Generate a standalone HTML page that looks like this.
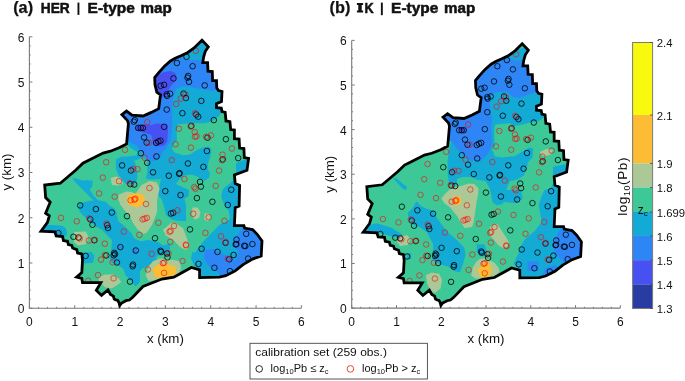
<!DOCTYPE html>
<html><head><meta charset="utf-8"><style>
html,body{margin:0;padding:0;background:#fff;}
svg{display:block;will-change:transform;}
text{font-family:"Liberation Sans",sans-serif;fill:#111;}
.tk{font-size:12px;}
.lab{font-size:13.3px;}
.cbt{font-size:11.3px;}
.zc{font-size:12px;}
.ttl{font-size:16.3px;font-weight:bold;stroke:#111;stroke-width:0.25px;}
.tt2{font-size:14.4px;font-weight:bold;stroke:#111;stroke-width:0.5px;}
.lg{font-size:11px;}
</style></head><body>
<svg width="685" height="381" viewBox="0 0 685 381">
<rect width="685" height="381" fill="#fff"/>
<text x="13.2" y="12.7" class="ttl">(a)</text>
<text x="40.8" y="12.7" class="tt2" textLength="29" lengthAdjust="spacingAndGlyphs">HER</text>
<rect x="77.5" y="2.6" width="1.9" height="12.3" fill="#111"/>
<text x="87.6" y="12.7" class="tt2" textLength="47.2" lengthAdjust="spacingAndGlyphs">E-type</text>
<text x="140.6" y="12.7" class="tt2" textLength="31.2" lengthAdjust="spacingAndGlyphs">map</text>
<text x="329.6" y="12.7" class="ttl">(b)</text>
<path d="M356.9,2.9H363.1V4.9H361.7V10.6H363.1V12.6H356.9V10.6H358.3V4.9H356.9Z" fill="#111"/>
<text x="364.6" y="12.7" class="tt2" textLength="9.2" lengthAdjust="spacingAndGlyphs">K</text>
<rect x="380.9" y="2.6" width="1.9" height="12.6" fill="#111"/>
<text x="391.1" y="12.7" class="tt2" textLength="47.2" lengthAdjust="spacingAndGlyphs">E-type</text>
<text x="444.1" y="12.7" class="tt2" textLength="31.2" lengthAdjust="spacingAndGlyphs">map</text>
<path d="M29.40,36.82V308.20H301.38" fill="none" stroke="#7a7a7a" stroke-width="1.1"/>
<path d="M29.40,308.20v-3M29.40,308.20h3M38.47,308.20v-1.3M29.40,299.15h1.3M47.53,308.20v-1.3M29.40,290.11h1.3M56.60,308.20v-1.3M29.40,281.06h1.3M65.66,308.20v-1.3M29.40,272.02h1.3M74.73,308.20v-3M29.40,262.97h3M83.80,308.20v-1.3M29.40,253.92h1.3M92.86,308.20v-1.3M29.40,244.88h1.3M101.93,308.20v-1.3M29.40,235.83h1.3M110.99,308.20v-1.3M29.40,226.79h1.3M120.06,308.20v-3M29.40,217.74h3M129.13,308.20v-1.3M29.40,208.69h1.3M138.19,308.20v-1.3M29.40,199.65h1.3M147.26,308.20v-1.3M29.40,190.60h1.3M156.32,308.20v-1.3M29.40,181.56h1.3M165.39,308.20v-3M29.40,172.51h3M174.46,308.20v-1.3M29.40,163.46h1.3M183.52,308.20v-1.3M29.40,154.42h1.3M192.59,308.20v-1.3M29.40,145.37h1.3M201.65,308.20v-1.3M29.40,136.33h1.3M210.72,308.20v-3M29.40,127.28h3M219.79,308.20v-1.3M29.40,118.23h1.3M228.85,308.20v-1.3M29.40,109.19h1.3M237.92,308.20v-1.3M29.40,100.14h1.3M246.98,308.20v-1.3M29.40,91.10h1.3M256.05,308.20v-3M29.40,82.05h3M265.12,308.20v-1.3M29.40,73.00h1.3M274.18,308.20v-1.3M29.40,63.96h1.3M283.25,308.20v-1.3M29.40,54.91h1.3M292.31,308.20v-1.3M29.40,45.87h1.3M301.38,308.20v-3M29.40,36.82h3" fill="none" stroke="#7a7a7a" stroke-width="1"/>
<text x="29.40" y="325.80" text-anchor="middle" class="tk">0</text>
<text x="24.40" y="313.10" text-anchor="end" class="tk">0</text>
<text x="74.73" y="325.80" text-anchor="middle" class="tk">1</text>
<text x="24.40" y="267.87" text-anchor="end" class="tk">1</text>
<text x="120.06" y="325.80" text-anchor="middle" class="tk">2</text>
<text x="24.40" y="222.64" text-anchor="end" class="tk">2</text>
<text x="165.39" y="325.80" text-anchor="middle" class="tk">3</text>
<text x="24.40" y="177.41" text-anchor="end" class="tk">3</text>
<text x="210.72" y="325.80" text-anchor="middle" class="tk">4</text>
<text x="24.40" y="132.18" text-anchor="end" class="tk">4</text>
<text x="256.05" y="325.80" text-anchor="middle" class="tk">5</text>
<text x="24.40" y="86.95" text-anchor="end" class="tk">5</text>
<text x="301.38" y="325.80" text-anchor="middle" class="tk">6</text>
<text x="24.40" y="41.72" text-anchor="end" class="tk">6</text>
<text x="165.39" y="343.4" text-anchor="middle" class="lab">x (km)</text>
<text transform="translate(10.6,172) rotate(-90)" x="0" y="0" text-anchor="middle" class="lab">y (km)</text>
<path d="M351.70,40.38V308.10H620.32" fill="none" stroke="#7a7a7a" stroke-width="1.1"/>
<path d="M351.70,308.10v-3M351.70,308.10h3M360.65,308.10v-1.3M351.70,299.18h1.3M369.61,308.10v-1.3M351.70,290.25h1.3M378.56,308.10v-1.3M351.70,281.33h1.3M387.52,308.10v-1.3M351.70,272.40h1.3M396.47,308.10v-3M351.70,263.48h3M405.42,308.10v-1.3M351.70,254.56h1.3M414.38,308.10v-1.3M351.70,245.63h1.3M423.33,308.10v-1.3M351.70,236.71h1.3M432.29,308.10v-1.3M351.70,227.78h1.3M441.24,308.10v-3M351.70,218.86h3M450.19,308.10v-1.3M351.70,209.94h1.3M459.15,308.10v-1.3M351.70,201.01h1.3M468.10,308.10v-1.3M351.70,192.09h1.3M477.06,308.10v-1.3M351.70,183.16h1.3M486.01,308.10v-3M351.70,174.24h3M494.96,308.10v-1.3M351.70,165.32h1.3M503.92,308.10v-1.3M351.70,156.39h1.3M512.87,308.10v-1.3M351.70,147.47h1.3M521.83,308.10v-1.3M351.70,138.54h1.3M530.78,308.10v-3M351.70,129.62h3M539.73,308.10v-1.3M351.70,120.70h1.3M548.69,308.10v-1.3M351.70,111.77h1.3M557.64,308.10v-1.3M351.70,102.85h1.3M566.60,308.10v-1.3M351.70,93.92h1.3M575.55,308.10v-3M351.70,85.00h3M584.50,308.10v-1.3M351.70,76.08h1.3M593.46,308.10v-1.3M351.70,67.15h1.3M602.41,308.10v-1.3M351.70,58.23h1.3M611.37,308.10v-1.3M351.70,49.30h1.3M620.32,308.10v-3M351.70,40.38h3" fill="none" stroke="#7a7a7a" stroke-width="1"/>
<text x="351.70" y="325.80" text-anchor="middle" class="tk">0</text>
<text x="346.70" y="313.00" text-anchor="end" class="tk">0</text>
<text x="396.47" y="325.80" text-anchor="middle" class="tk">1</text>
<text x="346.70" y="268.38" text-anchor="end" class="tk">1</text>
<text x="441.24" y="325.80" text-anchor="middle" class="tk">2</text>
<text x="346.70" y="223.76" text-anchor="end" class="tk">2</text>
<text x="486.01" y="325.80" text-anchor="middle" class="tk">3</text>
<text x="346.70" y="179.14" text-anchor="end" class="tk">3</text>
<text x="530.78" y="325.80" text-anchor="middle" class="tk">4</text>
<text x="346.70" y="134.52" text-anchor="end" class="tk">4</text>
<text x="575.55" y="325.80" text-anchor="middle" class="tk">5</text>
<text x="346.70" y="89.90" text-anchor="end" class="tk">5</text>
<text x="620.32" y="325.80" text-anchor="middle" class="tk">6</text>
<text x="346.70" y="45.28" text-anchor="end" class="tk">6</text>
<text x="486.01" y="343.4" text-anchor="middle" class="lab">x (km)</text>
<text transform="translate(333.8,174.2) rotate(-90)" x="0" y="0" text-anchor="middle" class="lab">y (km)</text>
<clipPath id="cl"><polygon points="202.0,40.2 208.3,46.8 205.2,51.5 203.6,57.0 202.8,62.6 207.6,62.6 208.0,71.2 212.3,71.5 212.6,80.7 216.5,80.7 216.8,88.0 218.5,90.5 222.0,91.5 221.5,101.5 216.5,103.6 216.5,107.6 221.3,108.0 222.0,111.5 225.2,112.3 226.0,121.0 229.9,121.7 230.7,129.6 234.4,130.0 234.4,138.7 239.1,139.1 239.6,148.1 243.9,148.6 244.3,157.6 248.6,158.3 247.0,170.2 234.4,174.9 235.2,183.5 239.6,185.5 239.1,206.0 235.2,207.6 234.4,225.7 243.9,225.7 244.6,228.0 252.5,229.6 257.2,234.3 262.0,241.0 261.2,256.0 252.5,259.1 243.1,264.6 235.2,270.9 225.7,275.7 219.4,277.2 199.6,277.6 199.6,269.8 191.3,267.5 173.9,277.2 161.9,279.0 143.0,286.5 132.7,297.3 129.4,300.0 126.0,300.7 123.5,302.0 121.4,303.2 119.7,305.5 118.9,302.4 117.6,300.3 115.9,300.0 114.2,299.0 113.4,296.1 110.5,294.4 108.0,290.0 101.5,295.4 96.3,290.2 100.9,282.6 82.5,282.6 81.8,278.4 76.6,277.1 81.8,272.5 82.5,260.0 81.8,254.0 77.6,253.0 76.8,249.6 72.6,248.0 71.8,245.4 68.4,244.6 67.5,241.3 63.4,240.5 62.6,236.5 56.2,236.0 54.8,231.9 41.0,231.2 47.5,222.4 49.3,215.9 45.6,213.2 50.2,202.2 45.6,197.6 44.7,185.1 60.3,183.2 75.9,170.0 82.9,163.2 90.2,159.5 103.1,153.1 110.4,151.2 119.6,147.6 126.6,143.9 128.4,123.7 127.5,120.6 121.9,114.7 126.5,111.1 132.0,115.1 143.1,116.0 151.3,112.4 158.7,108.7 160.5,94.9 156.8,92.2 155.0,84.8 154.7,77.5 157.9,73.6 164.2,66.5 170.5,61.0 175.2,58.3 181.5,55.5 187.8,52.5 194.1,48.0"/></clipPath>
<g clip-path="url(#cl)">
<polygon points="202.0,40.2 208.3,46.8 205.2,51.5 203.6,57.0 202.8,62.6 207.6,62.6 208.0,71.2 212.3,71.5 212.6,80.7 216.5,80.7 216.8,88.0 218.5,90.5 222.0,91.5 221.5,101.5 216.5,103.6 216.5,107.6 221.3,108.0 222.0,111.5 225.2,112.3 226.0,121.0 229.9,121.7 230.7,129.6 234.4,130.0 234.4,138.7 239.1,139.1 239.6,148.1 243.9,148.6 244.3,157.6 248.6,158.3 247.0,170.2 234.4,174.9 235.2,183.5 239.6,185.5 239.1,206.0 235.2,207.6 234.4,225.7 243.9,225.7 244.6,228.0 252.5,229.6 257.2,234.3 262.0,241.0 261.2,256.0 252.5,259.1 243.1,264.6 235.2,270.9 225.7,275.7 219.4,277.2 199.6,277.6 199.6,269.8 191.3,267.5 173.9,277.2 161.9,279.0 143.0,286.5 132.7,297.3 129.4,300.0 126.0,300.7 123.5,302.0 121.4,303.2 119.7,305.5 118.9,302.4 117.6,300.3 115.9,300.0 114.2,299.0 113.4,296.1 110.5,294.4 108.0,290.0 101.5,295.4 96.3,290.2 100.9,282.6 82.5,282.6 81.8,278.4 76.6,277.1 81.8,272.5 82.5,260.0 81.8,254.0 77.6,253.0 76.8,249.6 72.6,248.0 71.8,245.4 68.4,244.6 67.5,241.3 63.4,240.5 62.6,236.5 56.2,236.0 54.8,231.9 41.0,231.2 47.5,222.4 49.3,215.9 45.6,213.2 50.2,202.2 45.6,197.6 44.7,185.1 60.3,183.2 75.9,170.0 82.9,163.2 90.2,159.5 103.1,153.1 110.4,151.2 119.6,147.6 126.6,143.9 128.4,123.7 127.5,120.6 121.9,114.7 126.5,111.1 132.0,115.1 143.1,116.0 151.3,112.4 158.7,108.7 160.5,94.9 156.8,92.2 155.0,84.8 154.7,77.5 157.9,73.6 164.2,66.5 170.5,61.0 175.2,58.3 181.5,55.5 187.8,52.5 194.1,48.0" fill="#3dc897"/>
<polygon points="120.0,140.0 110.0,100.0 150.0,40.0 230.0,40.0 230.0,112.3 221.5,112.3 218.5,116.7 212.6,121.1 205.3,123.3 192.1,123.3 178.1,124.0 176.6,130.6 177.0,140.6 173.8,143.4 172.0,148.9 174.7,152.6 183.0,155.3 190.2,154.5 196.5,150.2 203.0,147.5 209.0,146.5 211.5,149.5 210.5,156.0 208.3,162.0 207.5,168.3 209.9,173.1 209.1,177.8 204.4,180.9 196.5,176.2 191.8,174.6 183.9,175.4 179.2,179.4 176.0,184.0 182.0,187.0 188.8,190.0 188.8,195.9 184.4,198.8 186.0,205.0 186.0,220.9 179.1,220.9 171.8,219.4 165.9,215.0 164.4,207.6 161.5,198.8 157.1,194.4 158.5,190.0 161.0,179.0 152.0,179.5 147.3,179.1 146.0,179.1 147.3,171.2 147.3,160.7 142.1,158.1 134.2,160.7 136.2,166.0 136.9,171.2 137.5,177.8 135.5,183.0 131.6,184.3 126.4,184.3 122.4,180.4 118.5,175.2 115.9,168.6 115.9,159.4 121.1,156.8 127.0,156.5 135.5,155.6 138.3,152.8 131.3,148.5 127.0,144.3" fill="#14aad6"/>
<polygon points="72.3,177.6 77.8,179.1 82.5,180.7 87.2,179.9 92.8,180.7 92.0,187.0 89.6,189.4 93.5,195.7 99.8,202.0 103.0,206.7 99.8,206.7 93.5,200.4 88.8,195.7 84.1,191.0 79.4,186.2 74.6,181.5" fill="#14aad6"/>
<polygon points="79.0,203.0 84.1,202.2 90.0,200.7 100.0,200.5 106.0,202.0 110.0,206.0 114.0,208.0 117.0,213.0 116.6,215.0 118.6,221.6 125.2,226.8 131.7,233.4 134.3,238.6 140.9,241.2 147.4,239.9 156.6,241.2 163.2,245.2 170.0,243.8 170.0,254.3 157.9,255.6 155.0,258.3 159.8,259.8 148.5,265.5 142.8,268.3 140.0,271.2 139.8,282.5 135.5,286.8 132.7,282.5 125.6,275.4 122.8,268.3 118.5,265.5 111.4,262.7 109.4,258.3 111.4,247.8 112.0,239.9 105.5,233.4 101.8,229.4 95.9,226.5 90.0,222.1 84.1,216.2 79.7,211.8 78.5,207.4" fill="#14aad6"/>
<polygon points="47.4,225.0 53.2,225.0 62.1,225.7 65.7,227.9 67.2,233.8 65.0,236.8 56.2,235.3 48.8,231.6 38.0,231.6 38.0,226.0" fill="#14aad6"/>
<polygon points="83.1,252.8 91.6,252.0 94.4,255.6 93.0,262.7 84.5,263.4 83.1,258.4" fill="#14aad6"/>
<polygon points="200.0,290.0 199.0,270.0 193.8,265.5 191.0,258.4 192.4,252.0 195.0,252.4 203.7,240.9 212.3,232.2 219.5,225.0 222.5,223.0 227.1,221.5 230.0,217.9 228.5,210.6 224.1,204.7 221.2,195.9 222.6,190.0 224.8,187.2 231.1,182.5 234.3,179.4 239.0,177.8 245.0,176.0 245.0,222.0 270.0,222.0 270.0,290.0" fill="#14aad6"/>
<polygon points="236.0,163.0 250.0,158.0 250.0,171.0 236.0,175.0" fill="#14aad6"/>
<polygon points="124.0,143.0 115.0,115.0 150.0,60.0 178.7,52.7 180.9,57.1 185.3,59.8 194.1,60.1 204.0,60.1 225.0,60.0 225.0,90.0 216.0,90.0 211.8,91.0 205.9,89.5 200.0,88.7 194.1,88.0 189.7,86.5 182.4,86.5 176.5,88.7 174.5,94.0 172.5,100.0 172.0,110.0 172.3,120.0 171.8,132.0 171.0,140.0 166.7,147.1 162.4,152.8 159.6,158.4 153.9,161.3 148.3,159.8 142.6,152.8 136.9,145.7 131.3,142.8 128.0,141.0" fill="#2e86f6"/>
<polygon points="242.2,227.3 244.0,224.0 270.0,224.0 270.0,290.0 225.0,290.0 222.0,278.0 218.4,272.4 212.0,269.3 207.3,264.5 204.2,258.2 204.2,250.4 213.6,248.8 221.5,253.5 231.0,257.5 236.0,260.0 239.0,251.4 233.2,246.2 233.8,239.9 239.0,233.6" fill="#2e86f6"/>
<polygon points="132.7,248.5 137.0,248.5 137.0,254.2 132.7,254.2" fill="#2e86f6"/>
<polygon points="118.5,245.7 122.8,245.7 122.8,248.5 118.5,248.5" fill="#2e86f6"/>
<polygon points="150.0,80.0 155.1,77.0 162.5,72.6 170.6,71.1 174.3,72.6 176.5,74.8 175.7,80.6 170.6,86.5 168.0,92.0 166.0,97.0 161.0,97.0 157.4,90.0 154.0,88.0" fill="#4750f0"/>
<polygon points="135.7,125.7 140.5,124.2 151.5,125.0 156.2,123.4 167.2,124.2 168.0,130.5 167.2,141.5 164.1,145.4 157.8,146.2 153.1,143.9 151.5,135.2 146.8,133.6 140.5,132.0 135.7,130.5" fill="#4750f0"/>
<polygon points="135.5,194.0 141.2,185.3 149.7,181.1 156.8,182.5 159.6,188.2 157.1,200.3 157.1,212.1 154.1,219.4 151.9,225.3 146.8,232.6 143.8,234.1 137.9,229.7 133.5,223.8 130.6,217.9 124.7,210.6 120.3,204.7 118.1,198.8 118.8,194.4 126.2,191.5 132.0,192.0" fill="#abc896"/>
<polygon points="110.6,178.0 116.0,176.5 121.0,178.0 123.0,183.0 119.0,185.5 112.0,185.0" fill="#abc896"/>
<polygon points="162.9,229.7 171.8,222.4 176.2,223.8 180.6,226.5 183.0,228.0 186.0,236.0 189.6,245.7 186.8,249.9 182.5,248.5 179.0,246.0 173.2,240.0 165.9,235.6" fill="#abc896"/>
<polygon points="192.5,207.6 197.6,207.6 200.6,212.1 199.1,217.9 194.7,219.4 191.8,215.0" fill="#abc896"/>
<polygon points="204.3,213.5 209.4,213.5 210.9,217.9 207.9,221.6 204.3,219.4" fill="#abc896"/>
<polygon points="98.7,277.1 105.0,274.6 113.8,274.6 118.8,278.4 121.3,282.1 117.5,284.7 113.8,287.2 111.3,288.4 105.0,287.2 101.2,283.4 98.7,280.9" fill="#abc896"/>
<polygon points="74.0,232.0 86.0,231.5 88.5,237.0 86.0,244.0 78.0,245.5 74.0,242.0" fill="#abc896"/>
<polygon points="148.5,266.9 152.8,261.3 159.8,258.4 172.6,259.8 179.7,261.3 181.1,268.3 178.3,274.0 168.3,279.7 148.5,281.1 145.7,275.4" fill="#abc896"/>
<polygon points="126.9,195.9 132.1,193.7 137.9,192.9 143.1,195.1 145.3,198.8 142.4,204.7 137.9,207.6 132.1,206.2 127.6,203.2" fill="#fcbc34"/>
<polygon points="152.8,268.3 157.0,264.8 168.3,264.1 175.4,266.9 176.8,272.6 172.6,276.1 165.5,276.8 158.4,278.3 154.2,275.4" fill="#fcbc34"/>
</g>
<g fill="none" stroke="#000" stroke-width="0.8"><circle cx="186.5" cy="56.8" r="2.8"/><circle cx="176.9" cy="63.0" r="2.8"/><circle cx="192.6" cy="66.2" r="2.8"/><circle cx="173.5" cy="78.4" r="2.8"/><circle cx="188.2" cy="75.9" r="2.8"/><circle cx="187.5" cy="77.7" r="2.8"/><circle cx="189.0" cy="81.8" r="2.8"/><circle cx="160.6" cy="85.8" r="2.8"/><circle cx="164.0" cy="84.8" r="2.8"/><circle cx="204.7" cy="85.4" r="2.8"/><circle cx="166.7" cy="94.4" r="2.8"/><circle cx="170.1" cy="93.7" r="2.8"/><circle cx="167.1" cy="95.9" r="2.8"/><circle cx="183.6" cy="93.6" r="2.8"/><circle cx="185.9" cy="98.0" r="2.8"/><circle cx="166.7" cy="109.6" r="2.8"/><circle cx="182.4" cy="113.2" r="2.8"/><circle cx="134.8" cy="120.1" r="2.8"/><circle cx="133.8" cy="121.6" r="2.8"/><circle cx="138.2" cy="127.9" r="2.8"/><circle cx="140.7" cy="127.9" r="2.8"/><circle cx="142.9" cy="127.9" r="2.8"/><circle cx="164.2" cy="126.8" r="2.8"/><circle cx="144.1" cy="137.4" r="2.8"/><circle cx="146.6" cy="142.6" r="2.8"/><circle cx="156.1" cy="142.9" r="2.8"/><circle cx="158.3" cy="141.5" r="2.8"/><circle cx="160.5" cy="140.7" r="2.8"/><circle cx="201.3" cy="100.9" r="2.8"/><circle cx="196.2" cy="114.5" r="2.8"/><circle cx="198.2" cy="116.7" r="2.8"/><circle cx="213.8" cy="120.1" r="2.8"/><circle cx="191.3" cy="125.9" r="2.8"/><circle cx="207.5" cy="137.7" r="2.8"/><circle cx="225.9" cy="139.2" r="2.8"/><circle cx="140.9" cy="153.2" r="2.8"/><circle cx="147.2" cy="162.8" r="2.8"/><circle cx="156.5" cy="156.5" r="2.8"/><circle cx="187.9" cy="163.5" r="2.8"/><circle cx="122.1" cy="165.4" r="2.8"/><circle cx="131.0" cy="170.5" r="2.8"/><circle cx="153.0" cy="172.3" r="2.8"/><circle cx="168.8" cy="175.7" r="2.8"/><circle cx="179.6" cy="173.1" r="2.8"/><circle cx="179.1" cy="173.8" r="2.8"/><circle cx="130.4" cy="184.1" r="2.8"/><circle cx="134.2" cy="184.5" r="2.8"/><circle cx="165.3" cy="191.1" r="2.8"/><circle cx="180.5" cy="195.1" r="2.8"/><circle cx="206.9" cy="151.0" r="2.8"/><circle cx="222.8" cy="159.4" r="2.8"/><circle cx="238.2" cy="158.1" r="2.8"/><circle cx="203.4" cy="166.9" r="2.8"/><circle cx="200.0" cy="181.9" r="2.8"/><circle cx="200.9" cy="186.6" r="2.8"/><circle cx="231.3" cy="189.7" r="2.8"/><circle cx="80.2" cy="205.4" r="2.8"/><circle cx="95.9" cy="209.1" r="2.8"/><circle cx="111.8" cy="212.5" r="2.8"/><circle cx="90.3" cy="219.4" r="2.8"/><circle cx="92.5" cy="224.7" r="2.8"/><circle cx="107.2" cy="225.2" r="2.8"/><circle cx="108.0" cy="228.0" r="2.8"/><circle cx="58.4" cy="233.1" r="2.8"/><circle cx="73.5" cy="236.8" r="2.8"/><circle cx="78.5" cy="237.5" r="2.8"/><circle cx="94.3" cy="240.3" r="2.8"/><circle cx="127.0" cy="216.2" r="2.8"/><circle cx="171.0" cy="213.5" r="2.8"/><circle cx="173.2" cy="212.8" r="2.8"/><circle cx="155.0" cy="238.2" r="2.8"/><circle cx="120.4" cy="247.1" r="2.8"/><circle cx="135.8" cy="250.5" r="2.8"/><circle cx="85.6" cy="255.9" r="2.8"/><circle cx="106.3" cy="255.4" r="2.8"/><circle cx="114.3" cy="252.9" r="2.8"/><circle cx="115.0" cy="254.2" r="2.8"/><circle cx="113.8" cy="255.3" r="2.8"/><circle cx="116.9" cy="262.5" r="2.8"/><circle cx="132.7" cy="266.3" r="2.8"/><circle cx="130.0" cy="281.6" r="2.8"/><circle cx="133.0" cy="264.6" r="2.8"/><circle cx="201.6" cy="248.8" r="2.8"/><circle cx="160.5" cy="250.8" r="2.8"/><circle cx="161.2" cy="252.0" r="2.8"/><circle cx="166.9" cy="253.5" r="2.8"/><circle cx="167.5" cy="257.3" r="2.8"/><circle cx="198.5" cy="263.9" r="2.8"/><circle cx="196.9" cy="198.1" r="2.8"/><circle cx="212.4" cy="201.8" r="2.8"/><circle cx="227.8" cy="205.0" r="2.8"/><circle cx="190.0" cy="229.4" r="2.8"/><circle cx="225.6" cy="242.8" r="2.8"/><circle cx="236.5" cy="239.6" r="2.8"/><circle cx="246.2" cy="233.8" r="2.8"/><circle cx="236.4" cy="244.1" r="2.8"/><circle cx="235.7" cy="244.4" r="2.8"/><circle cx="244.2" cy="245.8" r="2.8"/><circle cx="245.3" cy="246.1" r="2.8"/><circle cx="252.4" cy="244.1" r="2.8"/><circle cx="217.5" cy="251.9" r="2.8"/><circle cx="233.6" cy="255.0" r="2.8"/><circle cx="229.3" cy="259.3" r="2.8"/><circle cx="248.1" cy="258.6" r="2.8"/><circle cx="214.4" cy="267.8" r="2.8"/><circle cx="230.0" cy="271.1" r="2.8"/></g><g fill="none" stroke="#f00" stroke-width="0.7" stroke-opacity="0.85"><circle cx="195.9" cy="50.9" r="2.8"/><circle cx="180.7" cy="98.5" r="2.8"/><circle cx="185.4" cy="94.6" r="2.8"/><circle cx="176.1" cy="104.0" r="2.8"/><circle cx="147.3" cy="122.1" r="2.8"/><circle cx="178.9" cy="128.7" r="2.8"/><circle cx="148.8" cy="142.6" r="2.8"/><circle cx="175.5" cy="144.3" r="2.8"/><circle cx="195.0" cy="113.3" r="2.8"/><circle cx="190.6" cy="126.5" r="2.8"/><circle cx="194.7" cy="132.1" r="2.8"/><circle cx="195.0" cy="136.8" r="2.8"/><circle cx="196.5" cy="136.2" r="2.8"/><circle cx="206.0" cy="136.8" r="2.8"/><circle cx="210.9" cy="135.4" r="2.8"/><circle cx="125.0" cy="149.8" r="2.8"/><circle cx="190.9" cy="147.6" r="2.8"/><circle cx="144.7" cy="157.9" r="2.8"/><circle cx="171.8" cy="160.1" r="2.8"/><circle cx="133.1" cy="169.0" r="2.8"/><circle cx="137.6" cy="169.1" r="2.8"/><circle cx="184.4" cy="179.0" r="2.8"/><circle cx="119.0" cy="181.2" r="2.8"/><circle cx="129.7" cy="183.3" r="2.8"/><circle cx="149.5" cy="188.0" r="2.8"/><circle cx="194.3" cy="187.1" r="2.8"/><circle cx="231.9" cy="148.5" r="2.8"/><circle cx="222.5" cy="154.7" r="2.8"/><circle cx="222.0" cy="160.3" r="2.8"/><circle cx="219.1" cy="170.6" r="2.8"/><circle cx="195.5" cy="188.8" r="2.8"/><circle cx="215.7" cy="185.9" r="2.8"/><circle cx="106.2" cy="162.2" r="2.8"/><circle cx="102.8" cy="177.6" r="2.8"/><circle cx="99.1" cy="193.4" r="2.8"/><circle cx="114.7" cy="196.7" r="2.8"/><circle cx="61.0" cy="217.9" r="2.8"/><circle cx="76.8" cy="221.3" r="2.8"/><circle cx="89.3" cy="218.4" r="2.8"/><circle cx="106.5" cy="223.7" r="2.8"/><circle cx="79.7" cy="238.5" r="2.8"/><circle cx="88.8" cy="240.5" r="2.8"/><circle cx="94.6" cy="239.8" r="2.8"/><circle cx="104.8" cy="243.7" r="2.8"/><circle cx="130.6" cy="200.3" r="2.8"/><circle cx="134.3" cy="199.6" r="2.8"/><circle cx="135.3" cy="198.8" r="2.8"/><circle cx="146.0" cy="204.0" r="2.8"/><circle cx="142.6" cy="219.4" r="2.8"/><circle cx="144.6" cy="218.7" r="2.8"/><circle cx="146.8" cy="217.9" r="2.8"/><circle cx="158.3" cy="222.7" r="2.8"/><circle cx="177.4" cy="210.3" r="2.8"/><circle cx="123.8" cy="231.6" r="2.8"/><circle cx="139.4" cy="234.9" r="2.8"/><circle cx="169.6" cy="231.9" r="2.8"/><circle cx="170.6" cy="230.9" r="2.8"/><circle cx="174.0" cy="226.0" r="2.8"/><circle cx="170.3" cy="241.8" r="2.8"/><circle cx="104.8" cy="255.2" r="2.8"/><circle cx="101.0" cy="259.6" r="2.8"/><circle cx="112.6" cy="262.2" r="2.8"/><circle cx="98.0" cy="275.1" r="2.8"/><circle cx="113.6" cy="278.3" r="2.8"/><circle cx="88.1" cy="280.7" r="2.8"/><circle cx="186.1" cy="245.4" r="2.8"/><circle cx="151.6" cy="253.9" r="2.8"/><circle cx="168.5" cy="253.3" r="2.8"/><circle cx="182.5" cy="261.0" r="2.8"/><circle cx="162.9" cy="263.2" r="2.8"/><circle cx="164.1" cy="262.7" r="2.8"/><circle cx="147.8" cy="269.5" r="2.8"/><circle cx="164.1" cy="272.9" r="2.8"/><circle cx="193.2" cy="213.8" r="2.8"/><circle cx="208.7" cy="217.2" r="2.8"/><circle cx="224.4" cy="220.9" r="2.8"/><circle cx="205.4" cy="232.9" r="2.8"/><circle cx="221.0" cy="236.3" r="2.8"/><circle cx="225.7" cy="242.0" r="2.8"/><circle cx="185.9" cy="244.7" r="2.8"/><circle cx="227.9" cy="258.9" r="2.8"/></g>
<polygon points="202.0,40.2 208.3,46.8 205.2,51.5 203.6,57.0 202.8,62.6 207.6,62.6 208.0,71.2 212.3,71.5 212.6,80.7 216.5,80.7 216.8,88.0 218.5,90.5 222.0,91.5 221.5,101.5 216.5,103.6 216.5,107.6 221.3,108.0 222.0,111.5 225.2,112.3 226.0,121.0 229.9,121.7 230.7,129.6 234.4,130.0 234.4,138.7 239.1,139.1 239.6,148.1 243.9,148.6 244.3,157.6 248.6,158.3 247.0,170.2 234.4,174.9 235.2,183.5 239.6,185.5 239.1,206.0 235.2,207.6 234.4,225.7 243.9,225.7 244.6,228.0 252.5,229.6 257.2,234.3 262.0,241.0 261.2,256.0 252.5,259.1 243.1,264.6 235.2,270.9 225.7,275.7 219.4,277.2 199.6,277.6 199.6,269.8 191.3,267.5 173.9,277.2 161.9,279.0 143.0,286.5 132.7,297.3 129.4,300.0 126.0,300.7 123.5,302.0 121.4,303.2 119.7,305.5 118.9,302.4 117.6,300.3 115.9,300.0 114.2,299.0 113.4,296.1 110.5,294.4 108.0,290.0 101.5,295.4 96.3,290.2 100.9,282.6 82.5,282.6 81.8,278.4 76.6,277.1 81.8,272.5 82.5,260.0 81.8,254.0 77.6,253.0 76.8,249.6 72.6,248.0 71.8,245.4 68.4,244.6 67.5,241.3 63.4,240.5 62.6,236.5 56.2,236.0 54.8,231.9 41.0,231.2 47.5,222.4 49.3,215.9 45.6,213.2 50.2,202.2 45.6,197.6 44.7,185.1 60.3,183.2 75.9,170.0 82.9,163.2 90.2,159.5 103.1,153.1 110.4,151.2 119.6,147.6 126.6,143.9 128.4,123.7 127.5,120.6 121.9,114.7 126.5,111.1 132.0,115.1 143.1,116.0 151.3,112.4 158.7,108.7 160.5,94.9 156.8,92.2 155.0,84.8 154.7,77.5 157.9,73.6 164.2,66.5 170.5,61.0 175.2,58.3 181.5,55.5 187.8,52.5 194.1,48.0" fill="none" stroke="#000" stroke-width="2.8" stroke-linejoin="miter" stroke-miterlimit="3"/>
<g transform="matrix(0.98765,0,0,0.98651,322.6632,4.0566)">
<clipPath id="cr"><polygon points="202.0,40.2 208.3,46.8 205.2,51.5 203.6,57.0 202.8,62.6 207.6,62.6 208.0,71.2 212.3,71.5 212.6,80.7 216.5,80.7 216.8,88.0 218.5,90.5 222.0,91.5 221.5,101.5 216.5,103.6 216.5,107.6 221.3,108.0 222.0,111.5 225.2,112.3 226.0,121.0 229.9,121.7 230.7,129.6 234.4,130.0 234.4,138.7 239.1,139.1 239.6,148.1 243.9,148.6 244.3,157.6 248.6,158.3 247.0,170.2 234.4,174.9 235.2,183.5 239.6,185.5 239.1,206.0 235.2,207.6 234.4,225.7 243.9,225.7 244.6,228.0 252.5,229.6 257.2,234.3 262.0,241.0 261.2,256.0 252.5,259.1 243.1,264.6 235.2,270.9 225.7,275.7 219.4,277.2 199.6,277.6 199.6,269.8 191.3,267.5 173.9,277.2 161.9,279.0 143.0,286.5 132.7,297.3 129.4,300.0 126.0,300.7 123.5,302.0 121.4,303.2 119.7,305.5 118.9,302.4 117.6,300.3 115.9,300.0 114.2,299.0 113.4,296.1 110.5,294.4 108.0,290.0 101.5,295.4 96.3,290.2 100.9,282.6 82.5,282.6 81.8,278.4 76.6,277.1 81.8,272.5 82.5,260.0 81.8,254.0 77.6,253.0 76.8,249.6 72.6,248.0 71.8,245.4 68.4,244.6 67.5,241.3 63.4,240.5 62.6,236.5 56.2,236.0 54.8,231.9 41.0,231.2 47.5,222.4 49.3,215.9 45.6,213.2 50.2,202.2 45.6,197.6 44.7,185.1 60.3,183.2 75.9,170.0 82.9,163.2 90.2,159.5 103.1,153.1 110.4,151.2 119.6,147.6 126.6,143.9 128.4,123.7 127.5,120.6 121.9,114.7 126.5,111.1 132.0,115.1 143.1,116.0 151.3,112.4 158.7,108.7 160.5,94.9 156.8,92.2 155.0,84.8 154.7,77.5 157.9,73.6 164.2,66.5 170.5,61.0 175.2,58.3 181.5,55.5 187.8,52.5 194.1,48.0"/></clipPath>
<g clip-path="url(#cr)">
<polygon points="202.0,40.2 208.3,46.8 205.2,51.5 203.6,57.0 202.8,62.6 207.6,62.6 208.0,71.2 212.3,71.5 212.6,80.7 216.5,80.7 216.8,88.0 218.5,90.5 222.0,91.5 221.5,101.5 216.5,103.6 216.5,107.6 221.3,108.0 222.0,111.5 225.2,112.3 226.0,121.0 229.9,121.7 230.7,129.6 234.4,130.0 234.4,138.7 239.1,139.1 239.6,148.1 243.9,148.6 244.3,157.6 248.6,158.3 247.0,170.2 234.4,174.9 235.2,183.5 239.6,185.5 239.1,206.0 235.2,207.6 234.4,225.7 243.9,225.7 244.6,228.0 252.5,229.6 257.2,234.3 262.0,241.0 261.2,256.0 252.5,259.1 243.1,264.6 235.2,270.9 225.7,275.7 219.4,277.2 199.6,277.6 199.6,269.8 191.3,267.5 173.9,277.2 161.9,279.0 143.0,286.5 132.7,297.3 129.4,300.0 126.0,300.7 123.5,302.0 121.4,303.2 119.7,305.5 118.9,302.4 117.6,300.3 115.9,300.0 114.2,299.0 113.4,296.1 110.5,294.4 108.0,290.0 101.5,295.4 96.3,290.2 100.9,282.6 82.5,282.6 81.8,278.4 76.6,277.1 81.8,272.5 82.5,260.0 81.8,254.0 77.6,253.0 76.8,249.6 72.6,248.0 71.8,245.4 68.4,244.6 67.5,241.3 63.4,240.5 62.6,236.5 56.2,236.0 54.8,231.9 41.0,231.2 47.5,222.4 49.3,215.9 45.6,213.2 50.2,202.2 45.6,197.6 44.7,185.1 60.3,183.2 75.9,170.0 82.9,163.2 90.2,159.5 103.1,153.1 110.4,151.2 119.6,147.6 126.6,143.9 128.4,123.7 127.5,120.6 121.9,114.7 126.5,111.1 132.0,115.1 143.1,116.0 151.3,112.4 158.7,108.7 160.5,94.9 156.8,92.2 155.0,84.8 154.7,77.5 157.9,73.6 164.2,66.5 170.5,61.0 175.2,58.3 181.5,55.5 187.8,52.5 194.1,48.0" fill="#3dc897"/>
<polygon points="108.7,117.5 149.2,56.7 240.3,36.4 240.3,114.9 223.6,114.9 219.1,118.6 208.7,120.2 201.2,122.4 193.8,123.8 189.3,120.9 180.4,121.6 174.4,122.4 174.0,125.6 173.6,131.8 174.3,143.9 171.4,146.7 174.3,154.2 181.8,155.6 191.7,154.2 194.5,154.2 202.0,149.8 209.4,145.3 213.2,146.7 212.5,155.6 208.0,160.1 206.6,166.7 203.7,173.9 196.6,178.1 189.4,179.7 186.4,186.8 185.0,196.9 182.2,202.6 176.4,204.0 172.2,201.2 169.2,186.8 165.0,179.7 156.4,178.1 149.2,175.3 141.1,175.3 136.0,177.3 135.8,183.5 128.3,183.5 126.5,172.4 126.5,159.3 127.9,147.9 130.2,138.8 123.9,138.8" fill="#14aad6"/>
<polygon points="71.2,176.3 74.3,176.3 85.4,185.4 84.4,188.5 81.3,187.5" fill="#14aad6"/>
<polygon points="90.5,207.4 94.9,200.0 99.4,204.5 105.3,207.4 112.7,209.8 115.8,216.9 121.6,225.0 127.6,232.1 135.8,239.2 143.3,246.7 144.7,254.1 141.8,264.5 138.9,272.0 132.9,270.5 126.9,266.0 120.9,264.5 115.0,261.6 110.5,258.5 112.0,251.1 111.7,243.2 105.3,231.1 99.4,226.8 92.0,223.9 87.5,217.9 86.0,211.9" fill="#14aad6"/>
<polygon points="45.8,223.9 54.7,222.3 69.6,226.8 77.1,231.3 81.5,234.3 75.6,237.2 69.6,235.7 60.7,232.8 54.7,231.3 44.3,232.1 32.7,232.1 32.7,224.0" fill="#14aad6"/>
<polygon points="85.2,252.5 89.6,252.5 89.6,258.5 85.2,258.5" fill="#14aad6"/>
<polygon points="156.0,243.6 163.5,243.6 166.4,251.1 164.9,255.6 158.9,255.6 156.0,251.1" fill="#14aad6"/>
<polygon points="199.8,289.9 200.6,276.5 197.7,267.5 193.2,263.0 197.7,254.1 200.6,245.1 205.4,237.6 214.4,230.2 220.1,223.0 221.8,221.3 220.3,212.3 218.8,203.4 221.8,194.5 224.7,188.5 230.3,187.0 233.3,182.5 236.3,179.6 240.3,178.3 255.5,178.3 255.5,224.0 280.8,224.0 280.8,289.9" fill="#14aad6"/>
<polygon points="233.2,165.2 250.4,161.1 250.4,174.3 233.2,176.3" fill="#14aad6"/>
<polygon points="169.4,188.5 200.8,188.5 202.4,197.4 196.5,201.9 182.6,200.6 176.5,198.6 172.5,194.6" fill="#14aad6"/>
<polygon points="125.9,138.8 108.7,112.5 149.2,56.7 186.6,47.6 189.9,55.8 195.9,57.3 204.1,56.6 225.1,56.7 225.1,90.2 213.0,90.2 205.7,92.6 198.3,95.5 192.3,94.0 186.6,89.1 176.5,89.1 171.5,92.2 169.1,96.0 169.8,105.0 171.4,116.9 170.5,125.8 170.9,134.8 171.5,142.9 167.4,151.9 160.0,159.3 148.8,158.4 143.2,153.7 135.8,146.3 130.2,138.8" fill="#2e86f6"/>
<polygon points="242.3,227.0 270.7,227.0 270.7,264.5 245.6,264.5 241.3,259.1 236.1,253.8 232.8,245.3 234.9,238.9 240.3,228.2" fill="#2e86f6"/>
<polygon points="225.1,267.6 236.3,264.5 240.3,269.6 228.2,276.7 222.1,276.7" fill="#2e86f6"/>
<polygon points="207.4,260.9 218.5,260.9 218.5,270.5 207.4,270.5" fill="#2e86f6"/>
<polygon points="138.0,124.6 144.1,124.6 145.1,129.7 139.1,130.7" fill="#4750f0"/>
<polygon points="120.2,197.4 123.7,192.5 129.6,187.0 141.6,184.0 147.6,181.8 153.4,182.5 157.9,187.0 157.4,192.9 155.9,200.4 154.4,210.9 152.9,221.3 151.4,225.8 144.0,227.2 139.6,221.3 136.5,215.3 129.1,206.3 123.2,201.9" fill="#abc896"/>
<polygon points="169.3,225.8 176.7,222.7 182.7,231.7 185.6,236.1 188.8,242.2 186.6,246.8 182.8,247.4 178.3,245.1 173.5,239.2 169.3,234.7" fill="#abc896"/>
<polygon points="219.9,149.8 227.3,146.7 233.3,148.2 230.3,152.7 224.3,154.2 221.4,152.7" fill="#abc896"/>
<polygon points="78.3,235.7 86.0,234.3 88.9,238.8 86.0,244.2 78.3,245.3 75.3,241.2" fill="#abc896"/>
<polygon points="104.5,275.0 110.5,272.0 118.0,273.4 120.9,279.4 119.4,288.3 113.5,292.8 109.1,289.9 106.0,283.9" fill="#abc896"/>
<polygon points="150.4,275.3 151.9,267.3 155.2,261.7 159.1,258.5 163.2,257.7 168.7,259.3 174.3,262.5 178.2,267.3 179.0,271.3 175.1,275.3 167.1,277.7 155.2,278.5" fill="#abc896"/>
<polygon points="131.4,196.0 139.6,195.2 140.3,201.9 135.1,204.1 132.1,201.9" fill="#fcbc34"/>
<polygon points="156.8,268.1 159.9,267.3 160.7,263.3 163.2,261.4 167.1,261.7 170.3,264.9 171.0,271.3 169.5,275.3 165.5,276.9 159.9,276.9 158.3,272.9 156.8,270.5" fill="#fcbc34"/>
</g>
<g fill="none" stroke="#000" stroke-width="0.8"><circle cx="186.5" cy="56.8" r="2.8"/><circle cx="176.9" cy="63.0" r="2.8"/><circle cx="192.6" cy="66.2" r="2.8"/><circle cx="173.5" cy="78.4" r="2.8"/><circle cx="188.2" cy="75.9" r="2.8"/><circle cx="187.5" cy="77.7" r="2.8"/><circle cx="189.0" cy="81.8" r="2.8"/><circle cx="160.6" cy="85.8" r="2.8"/><circle cx="164.0" cy="84.8" r="2.8"/><circle cx="204.7" cy="85.4" r="2.8"/><circle cx="166.7" cy="94.4" r="2.8"/><circle cx="170.1" cy="93.7" r="2.8"/><circle cx="167.1" cy="95.9" r="2.8"/><circle cx="183.6" cy="93.6" r="2.8"/><circle cx="185.9" cy="98.0" r="2.8"/><circle cx="166.7" cy="109.6" r="2.8"/><circle cx="182.4" cy="113.2" r="2.8"/><circle cx="134.8" cy="120.1" r="2.8"/><circle cx="133.8" cy="121.6" r="2.8"/><circle cx="138.2" cy="127.9" r="2.8"/><circle cx="140.7" cy="127.9" r="2.8"/><circle cx="142.9" cy="127.9" r="2.8"/><circle cx="164.2" cy="126.8" r="2.8"/><circle cx="144.1" cy="137.4" r="2.8"/><circle cx="146.6" cy="142.6" r="2.8"/><circle cx="156.1" cy="142.9" r="2.8"/><circle cx="158.3" cy="141.5" r="2.8"/><circle cx="160.5" cy="140.7" r="2.8"/><circle cx="201.3" cy="100.9" r="2.8"/><circle cx="196.2" cy="114.5" r="2.8"/><circle cx="198.2" cy="116.7" r="2.8"/><circle cx="213.8" cy="120.1" r="2.8"/><circle cx="191.3" cy="125.9" r="2.8"/><circle cx="207.5" cy="137.7" r="2.8"/><circle cx="225.9" cy="139.2" r="2.8"/><circle cx="140.9" cy="153.2" r="2.8"/><circle cx="147.2" cy="162.8" r="2.8"/><circle cx="156.5" cy="156.5" r="2.8"/><circle cx="187.9" cy="163.5" r="2.8"/><circle cx="122.1" cy="165.4" r="2.8"/><circle cx="131.0" cy="170.5" r="2.8"/><circle cx="153.0" cy="172.3" r="2.8"/><circle cx="168.8" cy="175.7" r="2.8"/><circle cx="179.6" cy="173.1" r="2.8"/><circle cx="179.1" cy="173.8" r="2.8"/><circle cx="130.4" cy="184.1" r="2.8"/><circle cx="134.2" cy="184.5" r="2.8"/><circle cx="165.3" cy="191.1" r="2.8"/><circle cx="180.5" cy="195.1" r="2.8"/><circle cx="206.9" cy="151.0" r="2.8"/><circle cx="222.8" cy="159.4" r="2.8"/><circle cx="238.2" cy="158.1" r="2.8"/><circle cx="203.4" cy="166.9" r="2.8"/><circle cx="200.0" cy="181.9" r="2.8"/><circle cx="200.9" cy="186.6" r="2.8"/><circle cx="231.3" cy="189.7" r="2.8"/><circle cx="80.2" cy="205.4" r="2.8"/><circle cx="95.9" cy="209.1" r="2.8"/><circle cx="111.8" cy="212.5" r="2.8"/><circle cx="90.3" cy="219.4" r="2.8"/><circle cx="92.5" cy="224.7" r="2.8"/><circle cx="107.2" cy="225.2" r="2.8"/><circle cx="108.0" cy="228.0" r="2.8"/><circle cx="58.4" cy="233.1" r="2.8"/><circle cx="73.5" cy="236.8" r="2.8"/><circle cx="78.5" cy="237.5" r="2.8"/><circle cx="94.3" cy="240.3" r="2.8"/><circle cx="127.0" cy="216.2" r="2.8"/><circle cx="171.0" cy="213.5" r="2.8"/><circle cx="173.2" cy="212.8" r="2.8"/><circle cx="155.0" cy="238.2" r="2.8"/><circle cx="120.4" cy="247.1" r="2.8"/><circle cx="135.8" cy="250.5" r="2.8"/><circle cx="85.6" cy="255.9" r="2.8"/><circle cx="106.3" cy="255.4" r="2.8"/><circle cx="114.3" cy="252.9" r="2.8"/><circle cx="115.0" cy="254.2" r="2.8"/><circle cx="113.8" cy="255.3" r="2.8"/><circle cx="116.9" cy="262.5" r="2.8"/><circle cx="132.7" cy="266.3" r="2.8"/><circle cx="130.0" cy="281.6" r="2.8"/><circle cx="133.0" cy="264.6" r="2.8"/><circle cx="201.6" cy="248.8" r="2.8"/><circle cx="160.5" cy="250.8" r="2.8"/><circle cx="161.2" cy="252.0" r="2.8"/><circle cx="166.9" cy="253.5" r="2.8"/><circle cx="167.5" cy="257.3" r="2.8"/><circle cx="198.5" cy="263.9" r="2.8"/><circle cx="196.9" cy="198.1" r="2.8"/><circle cx="212.4" cy="201.8" r="2.8"/><circle cx="227.8" cy="205.0" r="2.8"/><circle cx="190.0" cy="229.4" r="2.8"/><circle cx="225.6" cy="242.8" r="2.8"/><circle cx="236.5" cy="239.6" r="2.8"/><circle cx="246.2" cy="233.8" r="2.8"/><circle cx="236.4" cy="244.1" r="2.8"/><circle cx="235.7" cy="244.4" r="2.8"/><circle cx="244.2" cy="245.8" r="2.8"/><circle cx="245.3" cy="246.1" r="2.8"/><circle cx="252.4" cy="244.1" r="2.8"/><circle cx="217.5" cy="251.9" r="2.8"/><circle cx="233.6" cy="255.0" r="2.8"/><circle cx="229.3" cy="259.3" r="2.8"/><circle cx="248.1" cy="258.6" r="2.8"/><circle cx="214.4" cy="267.8" r="2.8"/><circle cx="230.0" cy="271.1" r="2.8"/></g><g fill="none" stroke="#f00" stroke-width="0.7" stroke-opacity="0.85"><circle cx="195.9" cy="50.9" r="2.8"/><circle cx="180.7" cy="98.5" r="2.8"/><circle cx="185.4" cy="94.6" r="2.8"/><circle cx="176.1" cy="104.0" r="2.8"/><circle cx="147.3" cy="122.1" r="2.8"/><circle cx="178.9" cy="128.7" r="2.8"/><circle cx="148.8" cy="142.6" r="2.8"/><circle cx="175.5" cy="144.3" r="2.8"/><circle cx="195.0" cy="113.3" r="2.8"/><circle cx="190.6" cy="126.5" r="2.8"/><circle cx="194.7" cy="132.1" r="2.8"/><circle cx="195.0" cy="136.8" r="2.8"/><circle cx="196.5" cy="136.2" r="2.8"/><circle cx="206.0" cy="136.8" r="2.8"/><circle cx="210.9" cy="135.4" r="2.8"/><circle cx="125.0" cy="149.8" r="2.8"/><circle cx="190.9" cy="147.6" r="2.8"/><circle cx="144.7" cy="157.9" r="2.8"/><circle cx="171.8" cy="160.1" r="2.8"/><circle cx="133.1" cy="169.0" r="2.8"/><circle cx="137.6" cy="169.1" r="2.8"/><circle cx="184.4" cy="179.0" r="2.8"/><circle cx="119.0" cy="181.2" r="2.8"/><circle cx="129.7" cy="183.3" r="2.8"/><circle cx="149.5" cy="188.0" r="2.8"/><circle cx="194.3" cy="187.1" r="2.8"/><circle cx="231.9" cy="148.5" r="2.8"/><circle cx="222.5" cy="154.7" r="2.8"/><circle cx="222.0" cy="160.3" r="2.8"/><circle cx="219.1" cy="170.6" r="2.8"/><circle cx="195.5" cy="188.8" r="2.8"/><circle cx="215.7" cy="185.9" r="2.8"/><circle cx="106.2" cy="162.2" r="2.8"/><circle cx="102.8" cy="177.6" r="2.8"/><circle cx="99.1" cy="193.4" r="2.8"/><circle cx="114.7" cy="196.7" r="2.8"/><circle cx="61.0" cy="217.9" r="2.8"/><circle cx="76.8" cy="221.3" r="2.8"/><circle cx="89.3" cy="218.4" r="2.8"/><circle cx="106.5" cy="223.7" r="2.8"/><circle cx="79.7" cy="238.5" r="2.8"/><circle cx="88.8" cy="240.5" r="2.8"/><circle cx="94.6" cy="239.8" r="2.8"/><circle cx="104.8" cy="243.7" r="2.8"/><circle cx="130.6" cy="200.3" r="2.8"/><circle cx="134.3" cy="199.6" r="2.8"/><circle cx="135.3" cy="198.8" r="2.8"/><circle cx="146.0" cy="204.0" r="2.8"/><circle cx="142.6" cy="219.4" r="2.8"/><circle cx="144.6" cy="218.7" r="2.8"/><circle cx="146.8" cy="217.9" r="2.8"/><circle cx="158.3" cy="222.7" r="2.8"/><circle cx="177.4" cy="210.3" r="2.8"/><circle cx="123.8" cy="231.6" r="2.8"/><circle cx="139.4" cy="234.9" r="2.8"/><circle cx="169.6" cy="231.9" r="2.8"/><circle cx="170.6" cy="230.9" r="2.8"/><circle cx="174.0" cy="226.0" r="2.8"/><circle cx="170.3" cy="241.8" r="2.8"/><circle cx="104.8" cy="255.2" r="2.8"/><circle cx="101.0" cy="259.6" r="2.8"/><circle cx="112.6" cy="262.2" r="2.8"/><circle cx="98.0" cy="275.1" r="2.8"/><circle cx="113.6" cy="278.3" r="2.8"/><circle cx="88.1" cy="280.7" r="2.8"/><circle cx="186.1" cy="245.4" r="2.8"/><circle cx="151.6" cy="253.9" r="2.8"/><circle cx="168.5" cy="253.3" r="2.8"/><circle cx="182.5" cy="261.0" r="2.8"/><circle cx="162.9" cy="263.2" r="2.8"/><circle cx="164.1" cy="262.7" r="2.8"/><circle cx="147.8" cy="269.5" r="2.8"/><circle cx="164.1" cy="272.9" r="2.8"/><circle cx="193.2" cy="213.8" r="2.8"/><circle cx="208.7" cy="217.2" r="2.8"/><circle cx="224.4" cy="220.9" r="2.8"/><circle cx="205.4" cy="232.9" r="2.8"/><circle cx="221.0" cy="236.3" r="2.8"/><circle cx="225.7" cy="242.0" r="2.8"/><circle cx="185.9" cy="244.7" r="2.8"/><circle cx="227.9" cy="258.9" r="2.8"/></g>
<polygon points="202.0,40.2 208.3,46.8 205.2,51.5 203.6,57.0 202.8,62.6 207.6,62.6 208.0,71.2 212.3,71.5 212.6,80.7 216.5,80.7 216.8,88.0 218.5,90.5 222.0,91.5 221.5,101.5 216.5,103.6 216.5,107.6 221.3,108.0 222.0,111.5 225.2,112.3 226.0,121.0 229.9,121.7 230.7,129.6 234.4,130.0 234.4,138.7 239.1,139.1 239.6,148.1 243.9,148.6 244.3,157.6 248.6,158.3 247.0,170.2 234.4,174.9 235.2,183.5 239.6,185.5 239.1,206.0 235.2,207.6 234.4,225.7 243.9,225.7 244.6,228.0 252.5,229.6 257.2,234.3 262.0,241.0 261.2,256.0 252.5,259.1 243.1,264.6 235.2,270.9 225.7,275.7 219.4,277.2 199.6,277.6 199.6,269.8 191.3,267.5 173.9,277.2 161.9,279.0 143.0,286.5 132.7,297.3 129.4,300.0 126.0,300.7 123.5,302.0 121.4,303.2 119.7,305.5 118.9,302.4 117.6,300.3 115.9,300.0 114.2,299.0 113.4,296.1 110.5,294.4 108.0,290.0 101.5,295.4 96.3,290.2 100.9,282.6 82.5,282.6 81.8,278.4 76.6,277.1 81.8,272.5 82.5,260.0 81.8,254.0 77.6,253.0 76.8,249.6 72.6,248.0 71.8,245.4 68.4,244.6 67.5,241.3 63.4,240.5 62.6,236.5 56.2,236.0 54.8,231.9 41.0,231.2 47.5,222.4 49.3,215.9 45.6,213.2 50.2,202.2 45.6,197.6 44.7,185.1 60.3,183.2 75.9,170.0 82.9,163.2 90.2,159.5 103.1,153.1 110.4,151.2 119.6,147.6 126.6,143.9 128.4,123.7 127.5,120.6 121.9,114.7 126.5,111.1 132.0,115.1 143.1,116.0 151.3,112.4 158.7,108.7 160.5,94.9 156.8,92.2 155.0,84.8 154.7,77.5 157.9,73.6 164.2,66.5 170.5,61.0 175.2,58.3 181.5,55.5 187.8,52.5 194.1,48.0" fill="none" stroke="#000" stroke-width="2.8" stroke-linejoin="miter" stroke-miterlimit="3"/>
</g>
<rect x="632.6" y="42.50" width="20.00" height="72.55" fill="#f9f90f"/><rect x="632.6" y="115.05" width="20.00" height="48.36" fill="#fcbc34"/><rect x="632.6" y="163.41" width="20.00" height="24.18" fill="#abc896"/><rect x="632.6" y="187.59" width="20.00" height="24.42" fill="#3dc897"/><rect x="632.6" y="212.01" width="20.00" height="23.94" fill="#14aad6"/><rect x="632.6" y="235.95" width="20.00" height="24.18" fill="#2e86f6"/><rect x="632.6" y="260.14" width="20.00" height="24.18" fill="#4750f0"/><rect x="632.6" y="284.32" width="20.00" height="24.18" fill="#283ca4"/><rect x="632.6" y="42.5" width="20.00" height="266.00" fill="none" stroke="#7a7a7a" stroke-width="1"/><text x="656.8" y="47.10" class="cbt">2.4</text><text x="656.8" y="119.65" class="cbt">2.1</text><text x="656.8" y="168.01" class="cbt">1.9</text><text x="656.8" y="192.19" class="cbt">1.8</text><text x="656.8" y="216.61" class="cbt">1.699</text><text x="656.8" y="240.55" class="cbt">1.6</text><text x="656.8" y="264.74" class="cbt">1.5</text><text x="656.8" y="288.92" class="cbt">1.4</text><text x="656.8" y="313.10" class="cbt">1.3</text><path d="M652.60,42.50h-2.5M652.60,115.05h-2.5M652.60,163.41h-2.5M652.60,187.59h-2.5M652.60,212.01h-2.5M652.60,235.95h-2.5M652.60,260.14h-2.5M652.60,284.32h-2.5M652.60,308.50h-2.5" stroke="#555" stroke-width="1"/><text transform="translate(626.9,186.4) rotate(-90)" text-anchor="middle" class="lab" style="font-size:13.6px;letter-spacing:0.55px">log<tspan font-size="9" dy="2.6">10</tspan><tspan dy="-2.6">(Pb)</tspan></text><text x="637.8" y="213.8" class="zc">z<tspan font-size="8" dy="2.4">c</tspan></text>
<rect x="250" y="343.3" width="177.4" height="35.7" fill="#fff" stroke="#444" stroke-width="0.9"/>
<text x="255.2" y="355.8" class="lg" textLength="131.7" lengthAdjust="spacingAndGlyphs">calibration set (259 obs.)</text>
<circle cx="259.2" cy="368.9" r="3.3" fill="none" stroke="#111" stroke-width="0.9"/>
<text x="270.6" y="372.2" class="lg">log<tspan font-size="7.5" dy="2.2">10</tspan><tspan dy="-2.2">Pb ≤ z</tspan><tspan font-size="7.5" dy="2.2">c</tspan></text>
<circle cx="350.4" cy="368.9" r="3.3" fill="none" stroke="#e8391c" stroke-width="0.9"/>
<text x="362" y="372.2" class="lg">log<tspan font-size="7.5" dy="2.2">10</tspan><tspan dy="-2.2">Pb &gt; z</tspan><tspan font-size="7.5" dy="2.2">c</tspan></text>
</svg>
</body></html>
